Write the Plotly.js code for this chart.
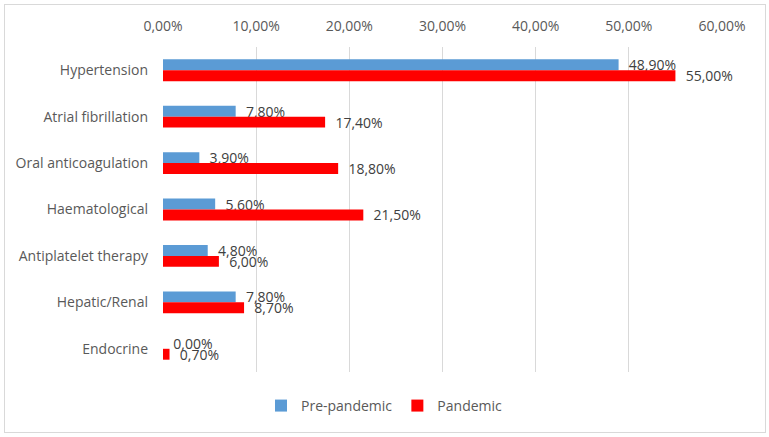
<!DOCTYPE html>
<html><head><meta charset="utf-8">
<script src="https://cdn.plot.ly/plotly-3.0.1.min.js"></script>
<style>
html,body{margin:0;padding:0;background:#fff;}
#wrap{position:absolute;left:4px;top:4px;width:760px;height:427px;border:1px solid #d9d9d9;}
#chart{position:absolute;left:0;top:0;width:769px;height:437px;}
</style></head>
<body>
<div id="wrap"></div>
<div id="chart"></div>
<script>
const categories = ["Hypertension","Atrial fibrillation","Oral anticoagulation","Haematological","Antiplatelet therapy","Hepatic/Renal","Endocrine"];
const prePandemic = [0.489,0.078,0.039,0.056,0.048,0.078,0.000];
const pandemic = [0.550,0.174,0.188,0.215,0.060,0.087,0.007];
const xTicks = [0,0.1,0.2,0.3,0.4,0.5,0.6];

const font = {family:"Open Sans, Liberation Sans, sans-serif", size:14, color:"#595959"};
const labelFont = {family:font.family, size:14, color:"#404040"};
const traces = [
 {type:"bar", orientation:"h", name:"Pre-pandemic", y:categories, x:prePandemic,
  marker:{color:"#5B9BD5"}, texttemplate:"  %{x:.2%}", textposition:"outside",
  constraintext:"none", textfont:labelFont, cliponaxis:false},
 {type:"bar", orientation:"h", name:"Pandemic", y:categories, x:pandemic,
  marker:{color:"#FF0000"}, texttemplate:"  %{x:.2%}", textposition:"outside",
  constraintext:"none", textfont:labelFont, cliponaxis:false}
];
const layout = {
 width:769, height:437,
 margin:{l:163, r:47, t:47, b:65},
 paper_bgcolor:"rgba(0,0,0,0)", plot_bgcolor:"rgba(0,0,0,0)",
 separators:",.",
 font:font,
 barmode:"group", bargap:0.53, bargroupgap:0,
 xaxis:{side:"top", range:[0,0.6], tickvals:xTicks, tickformat:".2%",
  showgrid:true, gridcolor:"#d9d9d9", gridwidth:1, zeroline:false, showline:false,
  ticks:"", ticklabelstandoff:12, tickfont:font, fixedrange:true},
 yaxis:{autorange:"reversed", showgrid:false, zeroline:false, showline:false,
  ticks:"", ticklabelstandoff:14, tickfont:font, fixedrange:true},
 showlegend:true,
 legend:{orientation:"h", x:0.5, xanchor:"center", xref:"container", yref:"container", y:0.071, yanchor:"middle",
  font:font, traceorder:"normal", itemwidth:30},
 uniformtext:{mode:false}
};
Plotly.newPlot("chart", traces, layout, {displayModeBar:false, staticPlot:true});
</script>
</body></html>
